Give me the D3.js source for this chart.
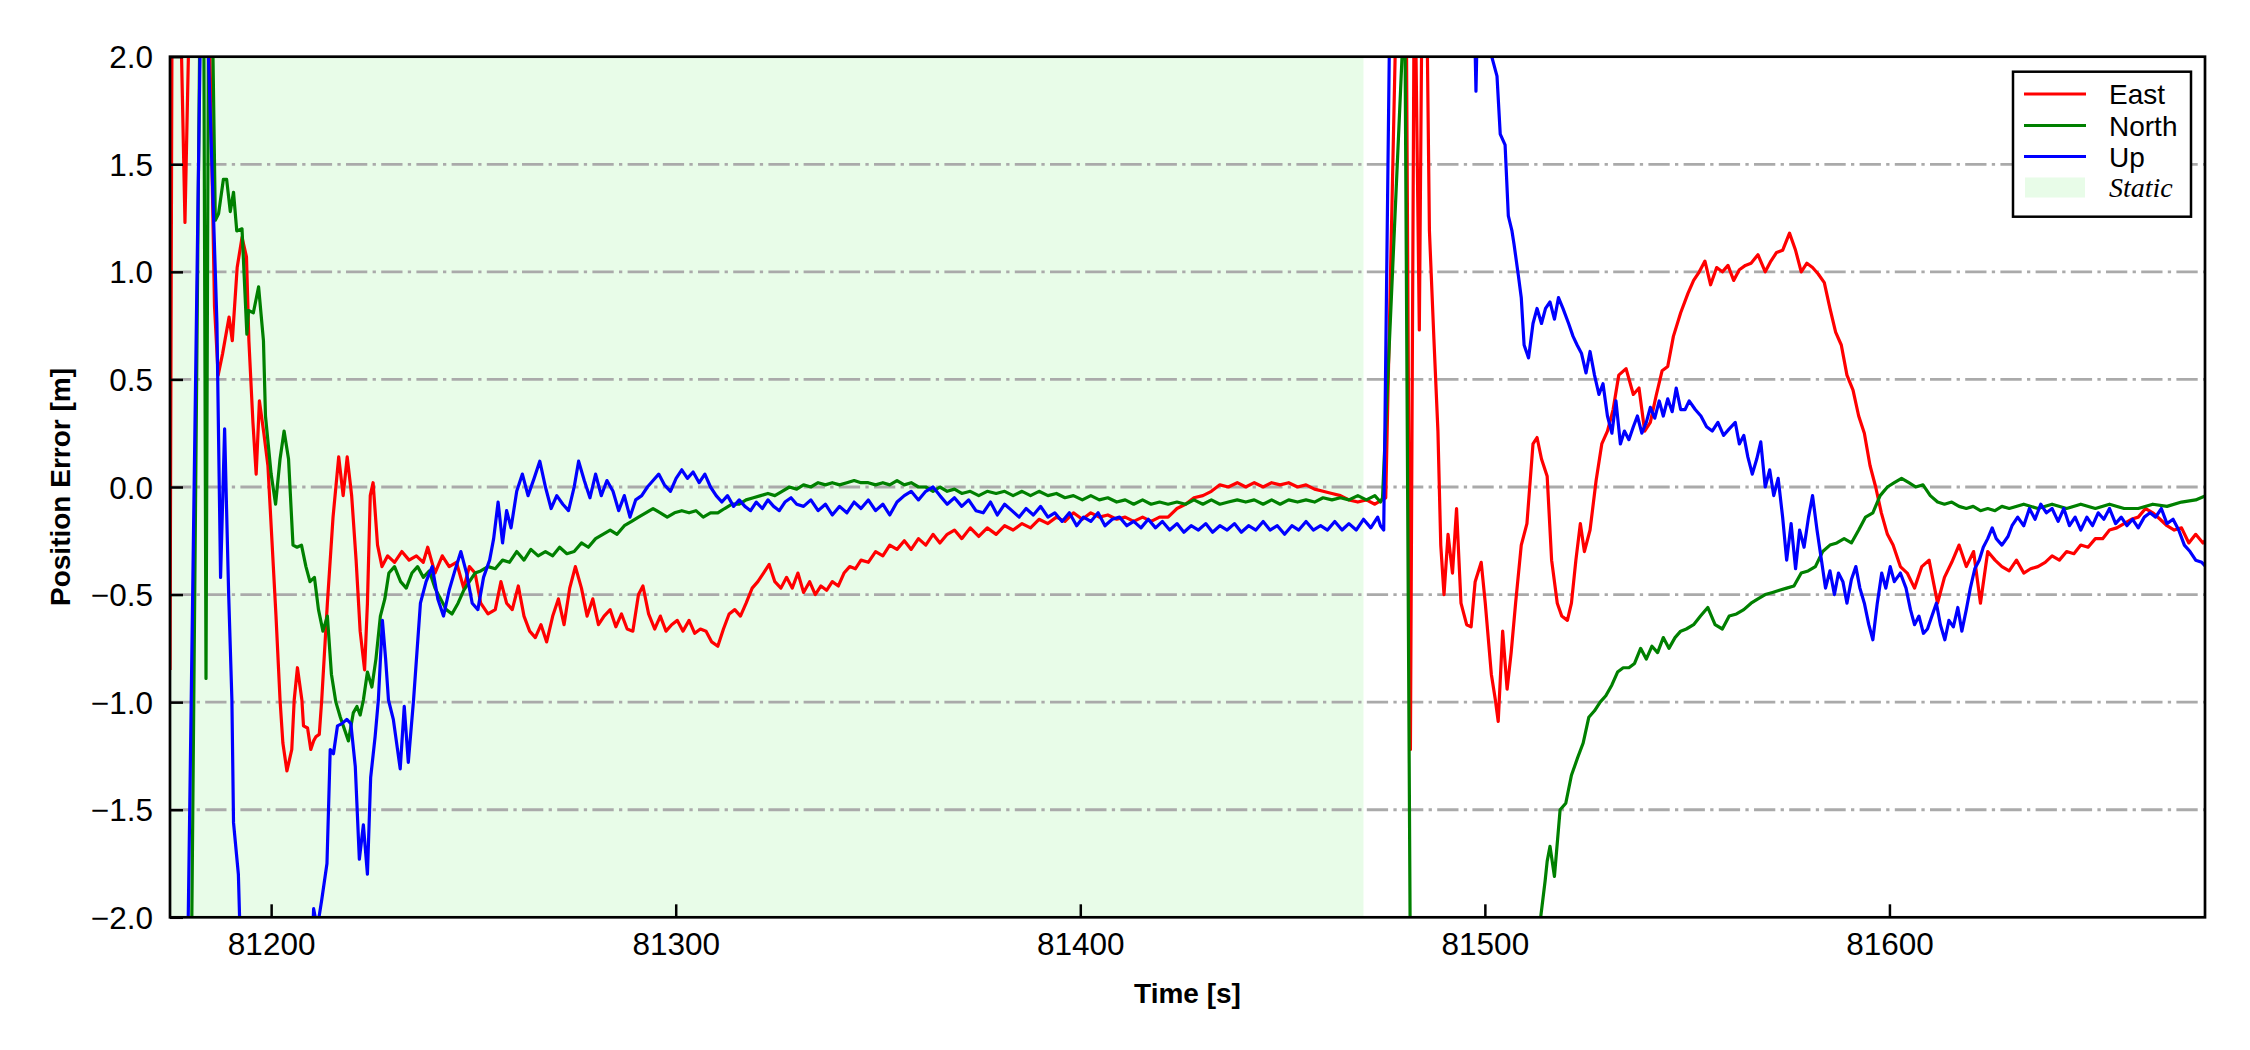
<!DOCTYPE html>
<html>
<head>
<meta charset="utf-8">
<script src="https://cdn.jsdelivr.net/npm/d3@7"></script>
<style>
  html, body { margin: 0; padding: 0; background: #fff; }
  svg { display: block; }
</style>
</head>
<body>
<div id="chart"></div>
<script>
// ---------------- data ----------------
const xTicks = [81200, 81300, 81400, 81500, 81600];
const yTicks = [-2.0, -1.5, -1.0, -0.5, 0.0, 0.5, 1.0, 1.5, 2.0];
const xDomain = [81175, 81678];
const yDomain = [-2, 2];
const staticSpan = [81175, 81470];
const seriesNames = ["East", "North", "Up"];
const seriesColors = ["#ff0000", "#008000", "#0000ff"];
const staticLabel = "Static";

const east = [
[81175,-0.85],[81175.6,2.8],[81177.2,2.6],[81178.7,1.23],[81180.2,2.6],[81181.5,2.7],[81183.5,2.5],[81184.5,2.4],
[81186.0,0.84],[81186.9,0.52],[81188.0,0.62],[81189.6,0.79],[81190.4,0.68],[81191.6,1.02],[81192.8,1.16],[81193.9,1.07],
[81194.5,0.68],[81195.5,0.3],[81196.3,0.06],[81197.1,0.4],[81198.2,0.25],[81199.2,0.1],[81200.2,-0.25],[81201.2,-0.6],
[81202.2,-0.99],[81202.9,-1.19],[81203.9,-1.32],[81205.1,-1.22],[81205.7,-0.99],[81206.5,-0.84],[81207.6,-0.99],[81208,-1.11],
[81209,-1.12],[81209.8,-1.22],[81210.5,-1.18],[81211.1,-1.16],[81211.9,-1.15],[81212.5,-0.99],[81213.9,-0.54],[81215.3,-0.14],
[81216.7,0.14],[81217.8,-0.04],[81218.8,0.14],[81219.9,-0.04],[81221.0,-0.34],[81222.0,-0.67],[81223.1,-0.85],[81223.8,-0.54],
[81224.5,-0.04],[81225.2,0.02],[81226.3,-0.27],[81227.4,-0.37],[81228.8,-0.32],[81230.5,-0.35],[81232.3,-0.3],[81234.1,-0.34],
[81235.9,-0.32],[81237.6,-0.35],[81238.7,-0.28],[81240.5,-0.4],[81242.3,-0.32],[81244.0,-0.37],[81245.8,-0.35],[81247.6,-0.47],
[81249.0,-0.37],[81250.4,-0.4],[81251.8,-0.54],[81253.6,-0.59],[81255.4,-0.57],[81256.8,-0.44],[81258.2,-0.54],[81259.6,-0.57],
[81261.1,-0.46],[81262.5,-0.6],[81263.9,-0.67],[81265.3,-0.7],[81266.7,-0.64],[81268.1,-0.72],[81269.6,-0.6],[81271.0,-0.52],
[81272.4,-0.64],[81273.8,-0.47],[81275.2,-0.37],[81276.7,-0.47],[81278.1,-0.6],[81279.5,-0.52],[81280.9,-0.64],[81282.3,-0.6],
[81283.8,-0.57],[81285.2,-0.65],[81286.6,-0.59],[81288.0,-0.66],[81289.4,-0.67],[81290.8,-0.5],[81291.9,-0.46],[81293.3,-0.59],
[81294.8,-0.66],[81296.2,-0.6],[81297.6,-0.67],[81299.0,-0.64],[81300.4,-0.62],[81301.8,-0.67],[81303.3,-0.62],[81304.7,-0.68],
[81306.1,-0.66],[81307.5,-0.67],[81308.9,-0.72],[81310.4,-0.74],[81311.8,-0.66],[81313.2,-0.59],[81314.6,-0.57],[81316.0,-0.6],
[81317.4,-0.54],[81318.9,-0.47],[81320.3,-0.44],[81321.7,-0.4],[81323.1,-0.36],[81324.5,-0.44],[81326.0,-0.47],[81327.4,-0.42],
[81328.8,-0.47],[81330.2,-0.4],[81331.6,-0.49],[81333.1,-0.44],[81334.5,-0.5],[81335.9,-0.46],[81337.3,-0.48],[81338.7,-0.44],
[81340.2,-0.46],[81341.6,-0.4],[81343.0,-0.37],[81344.4,-0.38],[81345.8,-0.34],[81347.6,-0.35],[81349.4,-0.3],[81351.2,-0.32],
[81352.9,-0.27],[81354.7,-0.29],[81356.5,-0.25],[81358.2,-0.29],[81360.0,-0.24],[81361.8,-0.27],[81363.6,-0.22],[81365.3,-0.26],
[81367.1,-0.22],[81368.9,-0.2],[81370.7,-0.24],[81372.8,-0.19],[81374.9,-0.23],[81377.0,-0.19],[81379.2,-0.22],[81381.3,-0.18],
[81383.4,-0.2],[81385.6,-0.17],[81387.7,-0.19],[81389.8,-0.15],[81392.0,-0.17],[81394.1,-0.14],[81396.2,-0.16],[81398.3,-0.12],
[81400.5,-0.15],[81402.6,-0.12],[81404.7,-0.14],[81406.8,-0.13],[81409.0,-0.15],[81411.1,-0.14],[81413.2,-0.16],[81415.4,-0.14],
[81417.5,-0.16],[81419.6,-0.14],[81421.7,-0.14],[81423.9,-0.1],[81426.0,-0.08],[81428.1,-0.05],[81430.3,-0.04],[81432.4,-0.02],
[81434.5,0.01],[81436.6,0.0],[81438.8,0.02],[81440.9,0.0],[81443.0,0.02],[81445.2,0.0],[81447.3,0.02],[81449.4,0.01],
[81451.5,0.02],[81453.7,0.0],[81455.8,0.01],[81457.9,-0.01],[81460.0,-0.02],[81462.2,-0.03],[81464.3,-0.04],[81466.4,-0.06],
[81468.6,-0.07],[81470.7,-0.06],[81472.8,-0.08],[81474.6,-0.06],[81475.5,-0.05],[81478.5,2.6],[81480.5,2.5],[81481.6,-1.22],
[81482.6,2.6],[81483.8,0.73],[81484.6,2.6],[81485.5,2.5],[81486.3,1.19],[81487.4,0.69],[81488.4,0.26],[81489.1,-0.27],
[81489.9,-0.5],[81490.9,-0.22],[81492.0,-0.4],[81493.0,-0.1],[81494.1,-0.54],[81495.5,-0.64],[81496.6,-0.65],[81497.6,-0.44],
[81499.1,-0.35],[81500.1,-0.54],[81501.6,-0.87],[81502.6,-0.99],[81503.3,-1.09],[81504.4,-0.67],[81505.5,-0.94],[81506.5,-0.77],
[81507.6,-0.54],[81509.0,-0.27],[81510.4,-0.17],[81511.9,0.2],[81512.9,0.23],[81514.0,0.13],[81515.4,0.05],[81516.5,-0.34],
[81517.9,-0.54],[81519.0,-0.6],[81520.4,-0.62],[81521.4,-0.54],[81522.5,-0.34],[81523.6,-0.17],[81524.6,-0.3],[81526.0,-0.2],
[81527.5,0.03],[81528.9,0.2],[81530.3,0.26],[81531.7,0.36],[81533.1,0.52],[81534.9,0.55],[81536.7,0.43],[81538.1,0.46],
[81539.5,0.26],[81540.9,0.3],[81542.4,0.43],[81543.8,0.54],[81545.2,0.56],[81546.6,0.7],[81548.4,0.81],[81550.2,0.9],
[81551.6,0.96],[81553.0,1.0],[81554.4,1.05],[81555.8,0.94],[81557.3,1.02],[81558.7,1.0],[81560.1,1.03],[81561.5,0.96],
[81562.9,1.01],[81564.4,1.03],[81565.8,1.04],[81567.5,1.08],[81569.3,1.0],[81570.7,1.05],[81572.1,1.09],[81573.6,1.1],
[81575.3,1.18],[81576.8,1.1],[81578.2,1.0],[81579.6,1.04],[81581.0,1.02],[81582.4,0.99],[81583.9,0.95],[81585.3,0.83],
[81586.7,0.72],[81588.1,0.66],[81589.5,0.52],[81591.0,0.45],[81592.4,0.33],[81593.8,0.25],[81595.2,0.1],[81596.6,0.0],
[81598.0,-0.12],[81599.5,-0.22],[81600.9,-0.27],[81602.7,-0.37],[81604.4,-0.4],[81606.2,-0.47],[81608.0,-0.37],[81609.8,-0.34],
[81611.9,-0.54],[81613.6,-0.42],[81615.4,-0.35],[81617.2,-0.27],[81619.0,-0.37],[81620.8,-0.3],[81622.5,-0.54],[81624.3,-0.3],
[81626.1,-0.34],[81627.8,-0.37],[81629.6,-0.39],[81631.4,-0.34],[81633.2,-0.4],[81634.9,-0.38],[81636.7,-0.37],[81638.5,-0.35],
[81640.2,-0.32],[81642.0,-0.34],[81643.8,-0.3],[81645.6,-0.31],[81647.3,-0.27],[81649.1,-0.28],[81650.9,-0.24],[81652.7,-0.24],
[81654.4,-0.2],[81656.2,-0.19],[81658.0,-0.17],[81659.8,-0.15],[81661.5,-0.14],[81663.3,-0.1],[81665.1,-0.12],[81666.9,-0.15],
[81668.6,-0.18],[81670.4,-0.2],[81672.2,-0.19],[81674.0,-0.26],[81675.7,-0.22],[81677.5,-0.26],[81678,-0.25]
];

const north = [
[81175,-3.2],[81180.0,-2.84],[81182.7,2.84],[81183.3,2.5],[81183.9,-0.89],[81184.6,2.6],[81185.4,2.3],[81186.2,1.24],
[81187,1.27],[81188.2,1.43],[81189,1.43],[81189.9,1.28],[81190.7,1.37],[81191.5,1.19],[81192.8,1.2],[81194,0.71],
[81194.4,0.82],[81195.6,0.81],[81196.9,0.93],[81198.1,0.68],[81198.6,0.33],[81200.0,0.06],[81201.1,-0.08],[81202.2,0.13],
[81203.2,0.26],[81204.3,0.13],[81205.4,-0.27],[81206.4,-0.28],[81207.5,-0.27],[81208.6,-0.37],[81209.6,-0.44],[81210.7,-0.42],
[81211.7,-0.57],[81212.8,-0.67],[81213.9,-0.6],[81214.9,-0.87],[81216.0,-1.0],[81217.1,-1.07],[81219.1,-1.18],[81220.3,-1.05],
[81221.2,-1.02],[81222,-1.06],[81222.8,-0.99],[81223.8,-0.86],[81224.9,-0.93],[81225.9,-0.8],[81227.0,-0.6],[81228.1,-0.52],
[81229.1,-0.4],[81230.5,-0.37],[81232.0,-0.44],[81233.4,-0.47],[81234.8,-0.4],[81236.2,-0.37],[81237.6,-0.42],[81239.1,-0.39],
[81240.5,-0.47],[81241.9,-0.52],[81243.3,-0.57],[81244.7,-0.59],[81246.2,-0.54],[81247.6,-0.48],[81249.0,-0.44],[81250.4,-0.4],
[81251.8,-0.39],[81253.6,-0.37],[81255.4,-0.38],[81257.2,-0.34],[81258.9,-0.35],[81260.7,-0.3],[81262.5,-0.34],[81264.2,-0.29],
[81266.0,-0.32],[81267.8,-0.3],[81269.6,-0.32],[81271.3,-0.28],[81273.1,-0.31],[81274.9,-0.3],[81276.7,-0.26],[81278.4,-0.28],
[81280.2,-0.24],[81282.0,-0.22],[81283.8,-0.2],[81285.5,-0.22],[81287.3,-0.18],[81289.1,-0.16],[81290.8,-0.14],[81292.6,-0.12],
[81294.4,-0.1],[81296.2,-0.12],[81297.9,-0.14],[81299.7,-0.12],[81301.5,-0.11],[81303.3,-0.12],[81305.0,-0.11],[81306.8,-0.14],
[81308.6,-0.12],[81310.4,-0.12],[81312.1,-0.1],[81313.9,-0.08],[81315.7,-0.08],[81317.4,-0.06],[81319.2,-0.05],[81321.0,-0.04],
[81322.8,-0.03],[81324.5,-0.04],[81326.3,-0.02],[81328.1,0.0],[81329.9,-0.01],[81331.6,0.01],[81333.4,0.0],[81335.2,0.02],
[81337.0,0.01],[81338.7,0.02],[81340.5,0.01],[81342.3,0.02],[81344.1,0.03],[81345.8,0.02],[81347.6,0.02],[81349.4,0.01],
[81351.2,0.02],[81352.9,0.01],[81354.7,0.03],[81356.5,0.01],[81358.2,0.02],[81360.0,0.0],[81361.8,0.0],[81363.6,-0.02],
[81365.3,0.0],[81367.1,-0.02],[81368.9,-0.01],[81370.7,-0.03],[81372.8,-0.02],[81374.9,-0.04],[81377.0,-0.02],[81379.2,-0.03],
[81381.3,-0.02],[81383.4,-0.04],[81385.6,-0.02],[81387.7,-0.04],[81389.8,-0.02],[81392.0,-0.04],[81394.1,-0.03],[81396.2,-0.05],
[81398.3,-0.04],[81400.5,-0.06],[81402.6,-0.04],[81404.7,-0.06],[81406.8,-0.05],[81409.0,-0.07],[81411.1,-0.06],[81413.2,-0.08],
[81415.4,-0.06],[81417.5,-0.08],[81419.6,-0.07],[81421.7,-0.08],[81423.9,-0.07],[81426.0,-0.08],[81428.1,-0.06],[81430.3,-0.08],
[81432.4,-0.06],[81434.5,-0.08],[81436.6,-0.07],[81438.8,-0.06],[81440.9,-0.07],[81443.0,-0.06],[81445.2,-0.08],[81447.3,-0.06],
[81449.4,-0.08],[81451.5,-0.06],[81453.7,-0.07],[81455.8,-0.06],[81457.9,-0.07],[81460.0,-0.05],[81462.2,-0.06],[81464.3,-0.05],
[81466.4,-0.06],[81468.6,-0.04],[81470.7,-0.06],[81472.8,-0.04],[81474.2,-0.07],[81474.7,-0.05],[81480.0,2.2],[81480.2,2.3],
[81481.7,-2.6],[81490,-3.5],[81505,-2.8],[81512.5,-2.2],[81514.9,-1.83],[81515.4,-1.74],[81516.1,-1.67],[81517.2,-1.81],
[81518.6,-1.5],[81520.0,-1.47],[81521.4,-1.34],[81522.9,-1.26],[81524.3,-1.19],[81525.7,-1.07],[81527.1,-1.04],[81528.5,-1.0],
[81529.9,-0.97],[81531.4,-0.92],[81532.8,-0.86],[81534.2,-0.84],[81535.6,-0.84],[81537.0,-0.82],[81538.5,-0.75],[81539.9,-0.8],
[81541.3,-0.74],[81542.7,-0.77],[81544.1,-0.7],[81545.5,-0.75],[81547.0,-0.7],[81548.4,-0.67],[81549.8,-0.66],[81551.6,-0.64],
[81553.3,-0.6],[81555.1,-0.56],[81556.9,-0.64],[81558.7,-0.66],[81560.4,-0.6],[81562.2,-0.59],[81564.0,-0.57],[81565.8,-0.54],
[81567.5,-0.52],[81569.3,-0.5],[81571.1,-0.49],[81572.8,-0.48],[81574.6,-0.47],[81576.4,-0.46],[81578.2,-0.4],[81579.9,-0.39],
[81581.7,-0.37],[81583.5,-0.3],[81585.3,-0.27],[81587.0,-0.26],[81588.8,-0.24],[81590.6,-0.26],[81592.4,-0.2],[81594.1,-0.14],
[81595.9,-0.12],[81597.7,-0.04],[81599.5,0.0],[81601.2,0.02],[81603.0,0.04],[81604.8,0.02],[81606.5,0.0],[81608.3,0.01],
[81610.1,-0.04],[81611.9,-0.07],[81613.6,-0.08],[81615.4,-0.07],[81617.2,-0.09],[81619.0,-0.1],[81620.7,-0.09],[81622.5,-0.11],
[81624.3,-0.1],[81626.1,-0.11],[81627.8,-0.09],[81629.6,-0.1],[81633.2,-0.08],[81636.7,-0.1],[81640.2,-0.08],[81643.8,-0.1],
[81647.3,-0.08],[81650.9,-0.1],[81654.4,-0.08],[81658.0,-0.1],[81661.5,-0.1],[81665.1,-0.08],[81668.6,-0.09],[81672.2,-0.07],
[81675.7,-0.06],[81678.2,-0.04]
];

const up = [
[81175,-3.0],[81179.0,-2.7],[81183.0,2.8],[81184.0,2.3],[81186.6,0.76],[81187.5,-0.42],[81188.5,0.27],[81189.5,-0.5],
[81190.3,-0.99],[81190.7,-1.56],[81191.9,-1.8],[81192.5,-2.2],[81195,-3.2],[81205,-3.0],[81209.8,-2.3],[81210.5,-1.96],
[81211.4,-2.05],[81212.5,-1.92],[81213.8,-1.75],[81214.6,-1.22],[81215.4,-1.24],[81216.4,-1.11],[81217.5,-1.1],[81218.7,-1.08],
[81219.7,-1.1],[81220.8,-1.3],[81221.8,-1.73],[81222.8,-1.57],[81223.8,-1.8],[81224.6,-1.35],[81225.7,-1.16],[81226.5,-0.99],
[81227.5,-0.62],[81228.3,-0.8],[81229,-0.99],[81230.2,-1.08],[81231.9,-1.31],[81232.9,-1.02],[81233.9,-1.28],[81235.2,-0.99],
[81236.9,-0.54],[81238.3,-0.44],[81239.8,-0.37],[81241.2,-0.52],[81242.6,-0.6],[81244.0,-0.48],[81245.4,-0.39],[81246.9,-0.3],
[81248.3,-0.4],[81249.7,-0.54],[81251.1,-0.57],[81252.5,-0.42],[81254.0,-0.34],[81255.0,-0.24],[81256.1,-0.07],[81257.2,-0.26],
[81258.2,-0.11],[81259.3,-0.19],[81260.7,-0.02],[81262.1,0.06],[81263.5,-0.04],[81265.0,0.04],[81266.4,0.12],[81267.8,0.0],
[81269.2,-0.1],[81270.6,-0.04],[81272.1,-0.08],[81273.5,-0.11],[81274.9,0.0],[81276.0,0.12],[81277.4,0.03],[81278.8,-0.05],
[81280.2,0.06],[81281.6,-0.04],[81283.0,0.03],[81284.5,-0.02],[81285.9,-0.11],[81287.3,-0.04],[81288.7,-0.14],[81290.1,-0.06],
[81291.6,-0.04],[81293.0,0.0],[81294.4,0.03],[81295.8,0.06],[81297.2,0.01],[81298.7,-0.02],[81300.1,0.04],[81301.5,0.08],
[81302.9,0.04],[81304.3,0.07],[81305.8,0.02],[81307.2,0.06],[81308.6,0.0],[81310.0,-0.04],[81311.4,-0.07],[81312.8,-0.04],
[81314.3,-0.09],[81315.7,-0.06],[81317.1,-0.09],[81318.5,-0.11],[81319.9,-0.07],[81321.4,-0.1],[81322.8,-0.06],[81324.2,-0.09],
[81325.6,-0.11],[81327.0,-0.07],[81328.5,-0.05],[81329.9,-0.08],[81331.6,-0.09],[81333.4,-0.06],[81335.2,-0.11],[81337.0,-0.08],
[81338.7,-0.13],[81340.5,-0.09],[81342.3,-0.12],[81344.1,-0.07],[81345.8,-0.1],[81347.6,-0.06],[81349.4,-0.11],[81351.2,-0.08],
[81352.9,-0.13],[81354.7,-0.07],[81356.5,-0.04],[81358.2,-0.02],[81360.0,-0.06],[81361.8,-0.02],[81363.6,0.0],[81365.3,-0.04],
[81367.1,-0.08],[81368.9,-0.05],[81370.7,-0.09],[81372.4,-0.06],[81374.2,-0.11],[81376.0,-0.12],[81377.8,-0.07],[81379.5,-0.13],
[81381.3,-0.08],[81383.1,-0.11],[81384.9,-0.14],[81386.6,-0.1],[81388.4,-0.13],[81390.2,-0.09],[81392.0,-0.14],[81393.7,-0.12],
[81395.5,-0.16],[81397.3,-0.12],[81399.1,-0.18],[81400.8,-0.14],[81402.6,-0.16],[81404.4,-0.12],[81406.1,-0.18],[81407.9,-0.15],
[81409.7,-0.14],[81411.5,-0.18],[81413.2,-0.16],[81415.0,-0.19],[81416.8,-0.15],[81418.6,-0.19],[81420.3,-0.16],[81422.1,-0.2],
[81423.9,-0.17],[81425.6,-0.21],[81427.4,-0.18],[81429.2,-0.2],[81431.0,-0.17],[81432.7,-0.21],[81434.5,-0.18],[81436.3,-0.2],
[81438.1,-0.17],[81439.8,-0.21],[81441.6,-0.18],[81443.4,-0.2],[81445.2,-0.16],[81446.9,-0.2],[81448.7,-0.18],[81450.5,-0.22],
[81452.3,-0.18],[81454.0,-0.2],[81455.8,-0.16],[81457.6,-0.2],[81459.4,-0.18],[81461.1,-0.2],[81462.9,-0.16],[81464.7,-0.2],
[81466.4,-0.17],[81468.2,-0.2],[81470.0,-0.15],[81471.8,-0.19],[81473.5,-0.14],[81474.2,-0.18],[81475.0,-0.2],[81476.8,2.7],
[81490,3.5],[81497.3,2.3],[81497.8,1.84],[81498.3,2.3],[81500.8,2.4],[81501.7,2.0],[81503,1.91],[81503.8,1.64],
[81505,1.59],[81505.8,1.26],[81506.7,1.19],[81507.2,1.13],[81508.3,0.98],[81509.0,0.88],[81509.7,0.66],[81510.8,0.6],
[81511.9,0.76],[81512.9,0.83],[81514.0,0.76],[81515.0,0.83],[81516.1,0.86],[81517.2,0.78],[81518.2,0.88],[81519.3,0.83],
[81520.7,0.76],[81521.8,0.7],[81522.8,0.66],[81523.9,0.62],[81525.0,0.53],[81526.0,0.63],[81527.1,0.52],[81528.2,0.43],
[81529.2,0.48],[81530.3,0.33],[81531.4,0.25],[81532.4,0.4],[81533.5,0.2],[81534.5,0.26],[81535.6,0.22],[81536.7,0.28],
[81537.7,0.33],[81538.8,0.25],[81539.9,0.3],[81540.9,0.37],[81542.0,0.32],[81543.1,0.4],[81544.1,0.33],[81545.2,0.41],
[81546.3,0.35],[81547.3,0.46],[81548.4,0.36],[81549.5,0.36],[81550.5,0.4],[81552.0,0.36],[81553.4,0.33],[81554.8,0.28],
[81556.2,0.26],[81557.6,0.3],[81559.0,0.24],[81560.4,0.27],[81561.9,0.3],[81562.9,0.2],[81564.0,0.24],[81565.0,0.14],
[81566.1,0.06],[81567.2,0.13],[81568.2,0.21],[81569.3,0.0],[81570.4,0.08],[81571.4,-0.04],[81572.5,0.04],[81573.6,-0.14],
[81574.6,-0.34],[81575.7,-0.17],[81576.8,-0.38],[81577.8,-0.2],[81578.9,-0.28],[81580.0,-0.14],[81581.0,-0.04],[81582.1,-0.2],
[81583.2,-0.34],[81584.2,-0.47],[81585.3,-0.39],[81586.4,-0.5],[81587.4,-0.4],[81588.5,-0.44],[81589.5,-0.54],[81590.6,-0.43],
[81591.7,-0.37],[81592.7,-0.47],[81593.8,-0.54],[81594.9,-0.64],[81595.9,-0.71],[81597.0,-0.54],[81598.1,-0.4],[81599.1,-0.47],
[81600.2,-0.37],[81601.2,-0.44],[81602.7,-0.4],[81604.1,-0.47],[81605.2,-0.57],[81606.2,-0.64],[81607.3,-0.6],[81608.4,-0.68],
[81609.4,-0.66],[81610.5,-0.6],[81611.6,-0.54],[81612.6,-0.64],[81613.7,-0.71],[81614.7,-0.62],[81615.8,-0.65],[81616.9,-0.56],
[81617.9,-0.67],[81619.0,-0.57],[81620.0,-0.47],[81621.1,-0.38],[81622.2,-0.34],[81623.2,-0.28],[81624.3,-0.24],[81625.4,-0.19],
[81626.4,-0.24],[81627.8,-0.27],[81629.3,-0.23],[81630.3,-0.18],[81631.7,-0.14],[81633.2,-0.18],[81634.6,-0.1],[81636.0,-0.15],
[81637.4,-0.08],[81638.8,-0.12],[81640.2,-0.1],[81641.7,-0.16],[81643.1,-0.1],[81644.5,-0.18],[81645.9,-0.14],[81647.3,-0.2],
[81648.8,-0.14],[81650.2,-0.18],[81651.6,-0.12],[81653.0,-0.15],[81654.4,-0.1],[81655.9,-0.17],[81657.3,-0.14],[81658.7,-0.18],
[81660.1,-0.15],[81661.5,-0.19],[81663.0,-0.14],[81664.4,-0.12],[81665.8,-0.14],[81667.2,-0.1],[81668.6,-0.17],[81670.1,-0.15],
[81671.5,-0.2],[81672.9,-0.27],[81674.3,-0.3],[81675.7,-0.34],[81677.2,-0.35],[81678.2,-0.37]
];

// ---------------- layout ----------------
const W = 2250, H = 1050;
const M = { left: 170, right: 2205, top: 56.7, bottom: 917.3 };
const FONT = "'Liberation Sans', Arial, Helvetica, sans-serif";

const svg = d3.select("#chart").append("svg")
  .attr("width", W).attr("height", H)
  .attr("viewBox", `0 0 ${W} ${H}`);
svg.append("rect").attr("width", W).attr("height", H).attr("fill", "#ffffff");

const x = d3.scaleLinear().domain(xDomain).range([M.left, M.right]);
const y = d3.scaleLinear().domain(yDomain).range([M.bottom, M.top]);

svg.append("defs").append("clipPath").attr("id", "plotclip")
  .append("rect")
  .attr("x", M.left).attr("y", M.top)
  .attr("width", M.right - M.left).attr("height", M.bottom - M.top);

// static shading
svg.append("rect")
  .attr("x", x(staticSpan[0])).attr("y", M.top)
  .attr("width", x(staticSpan[1]) - x(staticSpan[0]))
  .attr("height", M.bottom - M.top)
  .attr("fill", "#e8fce8");

// grid (horizontal, dash-dot)
svg.append("g").selectAll("line")
  .data(yTicks.filter(d => d > yDomain[0] && d < yDomain[1]))
  .join("line")
  .attr("x1", M.left).attr("x2", M.right)
  .attr("y1", d => y(d)).attr("y2", d => y(d))
  .attr("stroke", "#aaaaaa").attr("stroke-width", 2.8)
  .attr("stroke-dasharray", "21.3,5.3,3.3,5.3");

// data lines
const line = d3.line().x(d => x(d[0])).y(d => y(d[1]));
const gLines = svg.append("g").attr("clip-path", "url(#plotclip)");
[east, north, up].forEach((s, i) => {
  gLines.append("path").datum(s)
    .attr("d", line)
    .attr("fill", "none")
    .attr("stroke", seriesColors[i])
    .attr("stroke-width", 3.2)
    .attr("stroke-linejoin", "round");
});

// axes
const xAxis = d3.axisBottom(x).tickValues(xTicks).tickFormat(d3.format("d"))
  .tickSize(-13).tickPadding(0);
const gx = svg.append("g").attr("transform", `translate(0,${M.bottom})`).call(xAxis);
gx.select(".domain").remove();
gx.selectAll(".tick line").attr("stroke", "#000").attr("stroke-width", 2.5);
gx.selectAll(".tick text")
  .attr("y", 37.5).attr("dy", null)
  .attr("font-family", FONT).attr("font-size", 31.5).attr("fill", "#000");

const yAxis = d3.axisLeft(y).tickValues(yTicks).tickFormat(d3.format(".1f"))
  .tickSize(-13).tickPadding(17);
const gy = svg.append("g").attr("transform", `translate(${M.left},0)`).call(yAxis);
gy.select(".domain").remove();
gy.selectAll(".tick line").attr("stroke", "#000").attr("stroke-width", 2.5);
gy.selectAll(".tick text")
  .attr("dy", "0.35em")
  .attr("font-family", FONT).attr("font-size", 31.5).attr("fill", "#000");

// frame
svg.append("rect")
  .attr("x", M.left).attr("y", M.top)
  .attr("width", M.right - M.left).attr("height", M.bottom - M.top)
  .attr("fill", "none").attr("stroke", "#000").attr("stroke-width", 2.7);

// axis labels
svg.append("text")
  .attr("x", (M.left + M.right) / 2).attr("y", 1003)
  .attr("text-anchor", "middle")
  .attr("font-family", FONT).attr("font-weight", "bold").attr("font-size", 28)
  .text("Time [s]");
svg.append("text")
  .attr("transform", `translate(70,${(M.top + M.bottom) / 2}) rotate(-90)`)
  .attr("text-anchor", "middle")
  .attr("font-family", FONT).attr("font-weight", "bold").attr("font-size", 28)
  .text("Position Error [m]");

// legend
const lg = svg.append("g");
lg.append("rect")
  .attr("x", 2013).attr("y", 71.7).attr("width", 178).attr("height", 145)
  .attr("fill", "#fff").attr("stroke", "#000").attr("stroke-width", 2.5);
const rowY = [94, 125.5, 156.5, 187.5];
seriesNames.forEach((n, i) => {
  lg.append("line")
    .attr("x1", 2024).attr("x2", 2086).attr("y1", rowY[i]).attr("y2", rowY[i])
    .attr("stroke", seriesColors[i]).attr("stroke-width", 3.2);
  lg.append("text")
    .attr("x", 2109).attr("y", rowY[i] + 10)
    .attr("font-family", FONT).attr("font-size", 28).attr("fill", "#000")
    .text(n);
});
lg.append("rect")
  .attr("x", 2025).attr("y", rowY[3] - 10).attr("width", 60).attr("height", 20)
  .attr("fill", "#e8fce8");
lg.append("text")
  .attr("x", 2109).attr("y", rowY[3] + 9)
  .attr("font-family", "'Liberation Serif', 'Times New Roman', serif")
  .attr("font-style", "italic").attr("font-size", 28).attr("fill", "#000")
  .text(staticLabel);
</script>
</body>
</html>
